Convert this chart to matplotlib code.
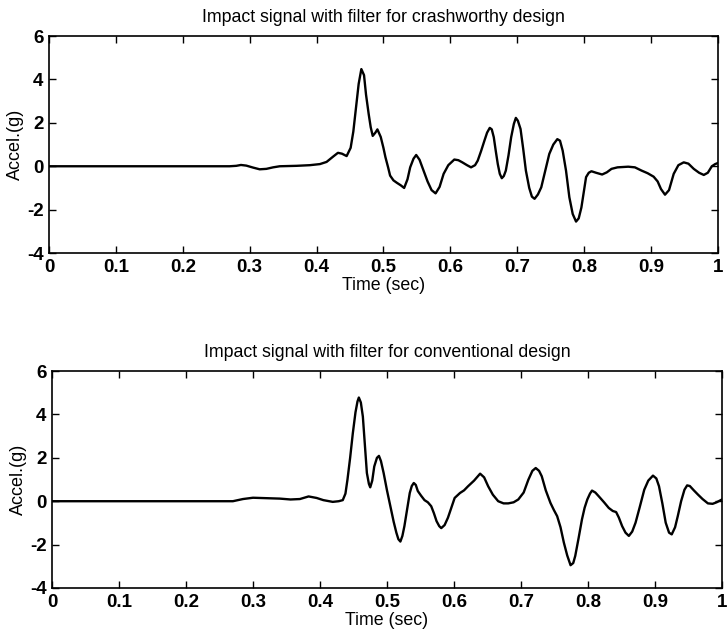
import matplotlib

matplotlib.use("Agg")
import matplotlib.pyplot as plt
import numpy as np

# (time in s, acceleration in g)
crash_t = [0.0, 0.1, 0.2, 0.27, 0.28, 0.287, 0.295, 0.305, 0.315, 0.325, 0.335, 0.345,
           0.37, 0.39, 0.405, 0.415, 0.425, 0.432, 0.438, 0.445, 0.451, 0.455, 0.459,
           0.463, 0.467, 0.471, 0.474, 0.478, 0.481, 0.484, 0.488, 0.491, 0.496, 0.5,
           0.503, 0.507, 0.51, 0.515, 0.52, 0.526, 0.531, 0.536, 0.54, 0.545, 0.549,
           0.554, 0.56, 0.566, 0.572, 0.578, 0.584, 0.59, 0.597, 0.606, 0.612, 0.618,
           0.625, 0.631, 0.637, 0.641, 0.646, 0.651, 0.655, 0.659, 0.662, 0.665, 0.668,
           0.671, 0.674, 0.677, 0.68, 0.683, 0.687, 0.691, 0.695, 0.698, 0.701, 0.705,
           0.709, 0.713, 0.718, 0.722, 0.726, 0.731, 0.736, 0.742, 0.748, 0.754, 0.76,
           0.764, 0.768, 0.773, 0.778, 0.783, 0.788, 0.792, 0.796, 0.8, 0.803, 0.807,
           0.811, 0.818, 0.827, 0.834, 0.841, 0.85, 0.866, 0.876, 0.886, 0.895, 0.904,
           0.91, 0.915, 0.921, 0.927, 0.934, 0.941, 0.949, 0.956, 0.964, 0.972, 0.979,
           0.985, 0.991, 0.996, 1.0]
crash_a = [0.0, 0.0, 0.0, 0.0, 0.02, 0.06, 0.03, -0.06, -0.14, -0.12, -0.05, 0.0,
           0.02, 0.05, 0.1, 0.2, 0.45, 0.62, 0.58, 0.47, 0.85, 1.6, 2.7,
           3.8, 4.48, 4.2, 3.3, 2.4, 1.8, 1.4, 1.55, 1.7, 1.35, 0.85,
           0.42, -0.05, -0.43, -0.65, -0.76, -0.88, -1.0, -0.6, -0.05, 0.35, 0.52,
           0.3, -0.2, -0.7, -1.1, -1.25, -0.95, -0.35, 0.05, 0.31, 0.28, 0.18,
           0.05, -0.05, 0.05, 0.26, 0.7, 1.18, 1.55, 1.77, 1.7, 1.34, 0.7,
           0.1, -0.35, -0.55, -0.45, -0.2, 0.5, 1.34, 1.95, 2.23, 2.1, 1.72,
           0.8, -0.2, -1.0, -1.4, -1.5, -1.3, -0.97, -0.2, 0.57, 1.0, 1.25,
           1.18, 0.72, -0.2, -1.43, -2.2, -2.55, -2.4, -1.9, -1.1, -0.5, -0.3,
           -0.23, -0.3, -0.38, -0.28, -0.12, -0.05, -0.02, -0.05, -0.2, -0.32, -0.48,
           -0.7, -1.05, -1.31, -1.1, -0.35, 0.05, 0.18, 0.12, -0.12, -0.3, -0.4,
           -0.3, 0.0, 0.1, 0.15]

conv_t = [0.0, 0.1, 0.2, 0.27, 0.285, 0.3, 0.32, 0.34, 0.356, 0.37, 0.383, 0.395,
          0.405, 0.419, 0.428, 0.434, 0.438, 0.441, 0.445, 0.449, 0.453, 0.456, 0.458,
          0.461, 0.464, 0.467, 0.47, 0.473, 0.475, 0.478, 0.481, 0.485, 0.488, 0.491,
          0.495, 0.5, 0.506, 0.51, 0.514, 0.517, 0.52, 0.523, 0.526, 0.53, 0.534,
          0.537, 0.54, 0.543, 0.546, 0.551, 0.556, 0.561, 0.566, 0.57, 0.574, 0.578,
          0.581, 0.586, 0.591, 0.596, 0.601, 0.609, 0.615, 0.621, 0.63, 0.639, 0.645,
          0.651, 0.658, 0.666, 0.674, 0.681, 0.689, 0.696, 0.704, 0.711, 0.717, 0.722,
          0.727, 0.731, 0.737, 0.744, 0.749, 0.754, 0.759, 0.764, 0.769, 0.774, 0.778,
          0.781, 0.786, 0.791, 0.795, 0.799, 0.803, 0.806, 0.811, 0.816, 0.824, 0.831,
          0.837, 0.842, 0.846, 0.851, 0.856, 0.861, 0.866, 0.871, 0.877, 0.884, 0.89,
          0.897, 0.902, 0.906, 0.911, 0.916, 0.921, 0.925, 0.93, 0.934, 0.939, 0.944,
          0.948, 0.952, 0.958, 0.964, 0.971, 0.979, 0.986, 0.992, 1.0]
conv_a = [0.0, 0.0, 0.0, 0.0, 0.1, 0.16, 0.14, 0.12, 0.08, 0.1, 0.22, 0.15,
          0.05, -0.03, 0.0, 0.05, 0.35, 0.99, 2.0, 3.13, 4.1, 4.6, 4.78,
          4.55, 3.9, 2.6, 1.3, 0.8, 0.64, 0.95, 1.6, 2.0, 2.09, 1.85,
          1.3, 0.5, -0.38, -0.95, -1.45, -1.75, -1.86, -1.6, -1.15, -0.4, 0.38,
          0.7, 0.84, 0.75, 0.47, 0.25, 0.05, -0.05, -0.23, -0.55, -0.92, -1.15,
          -1.24, -1.1, -0.76, -0.3, 0.15, 0.38, 0.5, 0.69, 0.95, 1.27, 1.1,
          0.69, 0.3, 0.0, -0.1, -0.1, -0.05, 0.08, 0.4, 0.99, 1.4, 1.53,
          1.4, 1.15, 0.5, -0.08, -0.4, -0.69, -1.2, -1.91, -2.5, -2.95, -2.85,
          -2.52, -1.7, -0.84, -0.3, 0.08, 0.35, 0.49, 0.4, 0.23, -0.05, -0.31,
          -0.45, -0.5, -0.75, -1.15, -1.45, -1.6, -1.4, -0.99, -0.3, 0.53, 0.95,
          1.18, 1.05, 0.69, -0.1, -0.99, -1.45, -1.53, -1.2, -0.69, 0.0, 0.53,
          0.73, 0.7, 0.5, 0.31, 0.1, -0.1, -0.12, -0.05, 0.08]

titles = ["Impact signal with filter for crashworthy design",
          "Impact signal with filter for conventional design"]
xticks = [0, 0.1, 0.2, 0.3, 0.4, 0.5, 0.6, 0.7, 0.8, 0.9, 1]
xticklabels = ["0", "0.1", "0.2", "0.3", "0.4", "0.5", "0.6", "0.7", "0.8", "0.9", "1"]
yticks = [-4, -2, 0, 2, 4, 6]

plt.rcParams["font.family"] = ["Liberation Sans", "DejaVu Sans"]
plt.rcParams["axes.unicode_minus"] = False

fig = plt.figure(figsize=(7.27, 6.38), dpi=100)
ax1 = fig.add_axes([0.0674, 0.6034, 0.920, 0.340])
ax2 = fig.add_axes([0.0715, 0.0784, 0.9216, 0.340])

for ax, t, a, title in [(ax1, crash_t, crash_a, titles[0]), (ax2, conv_t, conv_a, titles[1])]:
    ax.plot(t, a, color="black", lw=1.7)
    ax.set_xlim(0, 1)
    ax.set_ylim(-4, 6)
    ax.set_xticks(xticks)
    ax.set_xticklabels(xticklabels)
    ax.set_yticks(yticks)
    ax.tick_params(direction="in", top=True, right=True, length=5, width=1,
                   labelsize=13.5, pad=4)
    for label in ax.get_xticklabels() + ax.get_yticklabels():
        label.set_fontweight("bold")
    for spine in ax.spines.values():
        spine.set_linewidth(1.2)
    ax.set_title(title, fontsize=12.8, pad=10)
    ax.set_xlabel("Time (sec)", fontsize=12.8, labelpad=1)
    ax.set_ylabel("Accel.(g)", fontsize=13, labelpad=2)

fig.savefig("out.png", dpi=100)
